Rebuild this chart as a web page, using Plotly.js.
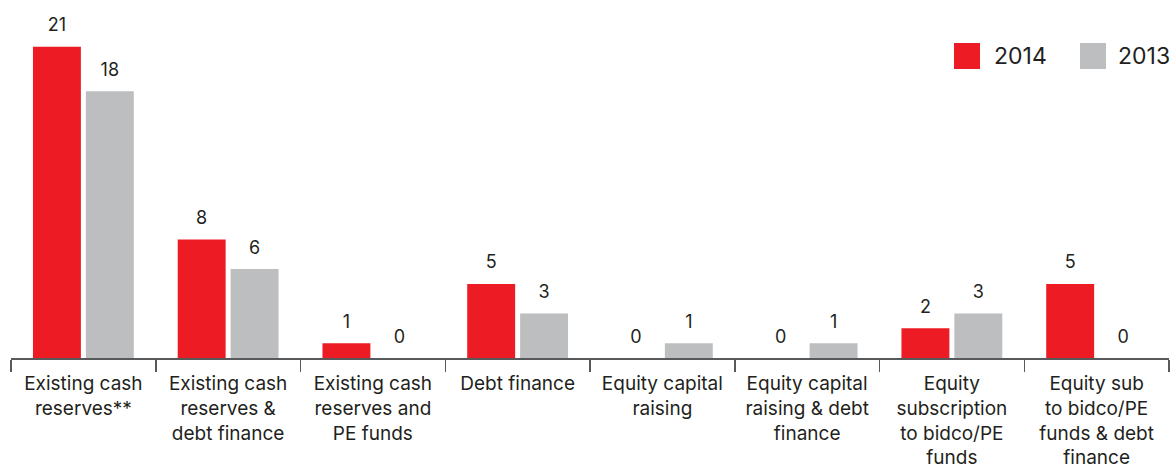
<!DOCTYPE html>
<html>
<head>
<meta charset="utf-8">
<script src="https://cdn.plot.ly/plotly-3.0.1.min.js"></script>
<style>
html,body{margin:0;padding:0;background:#fff;}
#chart{width:1171px;height:471px;}
</style>
</head>
<body>
<div id="chart"></div>
<script>
const categories = [
  "Existing cash<br>reserves**",
  "Existing cash<br>reserves &<br>debt finance",
  "Existing cash<br>reserves and<br>PE funds",
  "Debt finance",
  "Equity capital<br>raising",
  "Equity capital<br>raising & debt<br>finance",
  "Equity<br>subscription<br>to bidco/PE<br>funds",
  "Equity sub<br>to bidco/PE<br>funds & debt<br>finance"
];
const values2014 = [21, 8, 1, 5, 0, 0, 2, 5];
const values2013 = [18, 6, 0, 3, 1, 1, 3, 0];
const seriesNames = ["2014", "2013"];
const colors = ["#ed1c24", "#bcbec0"];

const FONT = "Inter, Roboto, 'Open Sans', sans-serif";
const TXT = "#231f20";

function barTrace(name, vals, color) {
  return {
    type: "bar",
    name: name,
    x: categories,
    y: vals,
    marker: {color: color},
    offsetgroup: name,
    showlegend: false,
    hoverinfo: "x+y"
  };
}
function labelTrace(name, vals) {
  return {
    type: "scatter",
    mode: "markers+text",
    name: name + " labels",
    x: categories,
    y: vals,
    offsetgroup: name,
    marker: {size: 16, color: "rgba(0,0,0,0)"},
    text: vals.map(String),
    textposition: "top center",
    textfont: {family: FONT, size: 18, color: TXT, weight: 400},
    cliponaxis: false,
    showlegend: false,
    hoverinfo: "skip"
  };
}

const data = [
  barTrace(seriesNames[0], values2014, colors[0]),
  barTrace(seriesNames[1], values2013, colors[1]),
  labelTrace(seriesNames[0], values2014),
  labelTrace(seriesNames[1], values2013)
];

const layout = {
  width: 1171,
  height: 471,
  margin: {l: 11, r: 2, t: 0, b: 113},
  paper_bgcolor: "#ffffff",
  plot_bgcolor: "#ffffff",
  barmode: "group",
  scattermode: "group",
  bargap: 0.269,
  scattergap: 0.269,
  bargroupgap: 0.094,
  font: {family: FONT, color: TXT, weight: 400},
  xaxis: {
    type: "category",
    showline: true,
    linecolor: "#58595b",
    linewidth: 1.5,
    ticks: "outside",
    tickson: "boundaries",
    ticklen: 12,
    tickwidth: 1.5,
    tickcolor: "#58595b",
    ticklabelstandoff: 8,
    tickfont: {family: FONT, size: 19, color: TXT, weight: 400},
    tickangle: 0,
    showgrid: false,
    zeroline: false,
    fixedrange: true
  },
  yaxis: {
    range: [0, 24.16],
    visible: false,
    showgrid: false,
    zeroline: false,
    fixedrange: true
  },
  shapes: [
    {type: "rect", xref: "paper", yref: "paper", x0: (954-11)/1158, x1: (980-11)/1158,
     y0: (358-69)/358, y1: (358-43)/358, fillcolor: colors[0], line: {width: 0}},
    {type: "rect", xref: "paper", yref: "paper", x0: (1080-11)/1158, x1: (1106-11)/1158,
     y0: (358-69)/358, y1: (358-43)/358, fillcolor: colors[1], line: {width: 0}}
  ],
  annotations: [
    {xref: "paper", yref: "paper", x: (992-11)/1158, y: (358-56)/358, xanchor: "left", yanchor: "middle",
     text: seriesNames[0], showarrow: false, font: {family: FONT, size: 23, color: TXT, weight: 400}},
    {xref: "paper", yref: "paper", x: (1116-11)/1158, y: (358-56)/358, xanchor: "left", yanchor: "middle",
     text: seriesNames[1], showarrow: false, font: {family: FONT, size: 23, color: TXT, weight: 400}}
  ]
};

Plotly.newPlot("chart", data, layout, {displayModeBar: false, staticPlot: true});
</script>
</body>
</html>
